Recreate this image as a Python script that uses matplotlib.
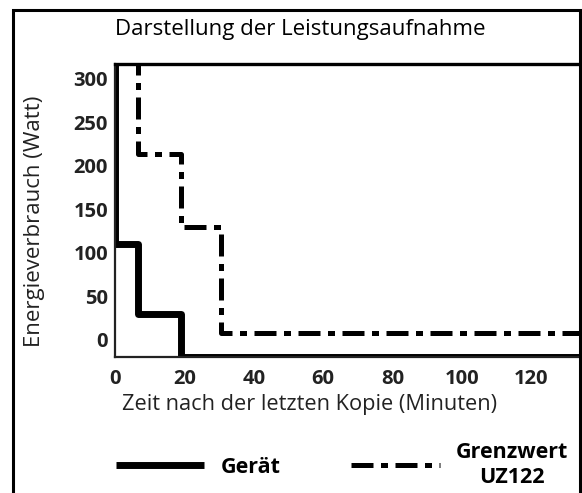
import matplotlib
matplotlib.use("Agg")
import matplotlib.pyplot as plt
from matplotlib.patches import Rectangle

plt.rcParams['font.family'] = ['Open Sans', 'DejaVu Sans']

# Werte
geraet_min = [0, 0, 6.5, 19, 140]
geraet_watt = [330, 110, 30, -20, -20]
grenz_min = [6.5, 6.5, 19, 30.5, 140]
grenz_watt = [330, 213, 130, 8, 8]

x_ticks = [0, 20, 40, 60, 80, 100, 120]
y_ticks = [0, 50, 100, 150, 200, 250, 300]

W, H = 582, 493
fig = plt.figure(figsize=(W / 100, H / 100), dpi=100)
ax = fig.add_axes([115 / W, 1 - 357 / H, (580 - 115) / W, (357 - 64) / H])

ax.step(geraet_min, geraet_watt, where='post', color='black', lw=5,
        solid_capstyle='butt', label='Gerät')
ax.step(grenz_min, grenz_watt, where='post', color='black', lw=3.6,
        dashes=(4.4, 1.5, 1.4, 1.5), dash_capstyle='butt',
        label='Grenzwert\nUZ122')

ax.set_xlim(0, 134)
ax.set_ylim(-20, 317)
ax.set_xticks(x_ticks)
ax.set_yticks(y_ticks)
ax.tick_params(length=0, labelsize=14.5, labelcolor='#222')
ax.tick_params(axis='x', pad=9)
ax.tick_params(axis='y', pad=5)
for lab in ax.get_xticklabels() + ax.get_yticklabels():
    lab.set_fontweight('bold')

for side in ['left', 'bottom']:
    ax.spines[side].set_linewidth(1.6)
    ax.spines[side].set_color('#222')
ax.spines['top'].set_linewidth(2.4)
ax.spines['right'].set_visible(False)

ax.set_xlabel('Zeit nach der letzten Kopie (Minuten)', fontsize=15.7, color='#222')
ax.xaxis.set_label_coords(0.419, -0.125)
ax.set_ylabel('Energieverbrauch (Watt)', fontsize=16, color='#222')
ax.yaxis.set_label_coords(-0.15, 0.464)

fig.text(300 / W, 1 - 29 / H, 'Darstellung der Leistungsaufnahme',
         ha='center', va='center', fontsize=16, color='black')

# Rahmen um die Grafik
fig.patches.append(Rectangle((13 / W, -0.2), (580 - 13) / W, 1.2 - 10 / H,
                             transform=fig.transFigure, fill=False,
                             edgecolor='black', lw=2.2))

leg = fig.legend(loc='center', bbox_to_anchor=(342 / W, 1 - 465 / H), ncol=2,
                 frameon=False, handlelength=4.1, handletextpad=0.75,
                 columnspacing=3.3, prop={'weight': 'bold', 'size': 15.5})
for t in leg.get_texts():
    t.set_multialignment('center')

fig.savefig('out.png', dpi=100)
